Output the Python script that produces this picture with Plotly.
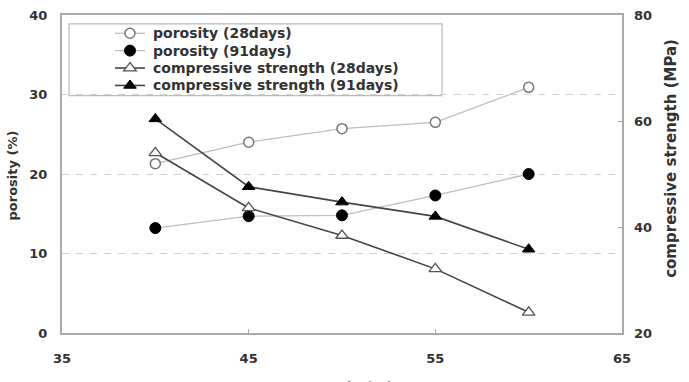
import plotly.graph_objects as go

wc = [40, 45, 50, 55, 60]
porosity_28 = [21.3, 24.0, 25.7, 26.5, 30.9]
porosity_91 = [13.2, 14.7, 14.8, 17.3, 20.0]
strength_28 = [54.0, 43.6, 38.4, 32.1, 23.9]
strength_91 = [60.4, 47.6, 44.7, 42.0, 35.8]

names = ["porosity (28days)", "porosity (91days)",
         "compressive strength (28days)", "compressive strength (91days)"]

x_ticks = [35, 45, 55, 65]
left_ticks = [0, 10, 20, 30, 40]
right_ticks = [20, 40, 60, 80]

W, H = 689, 382
L, R, T, B = 62, 622, 8, 333
pw, ph = R - L, B - T

def px(x):
    return (x - L) / pw

def py(y):
    return (B - y) / ph

FONT = "DejaVu Sans"
TXT = "#333333"

styles = [
    dict(line="#bdbdbd", lw=1.3, sym="circle", size=10, fill="white", edge="#777777", ew=1.5),
    dict(line="#bdbdbd", lw=1.3, sym="circle", size=11, fill="black", edge="black", ew=1),
    dict(line="#444444", lw=1.6, sym="triangle-up", size=11, fill="white", edge="#555555", ew=1.3),
    dict(line="#444444", lw=1.6, sym="triangle-up", size=11, fill="black", edge="black", ew=1),
]
series = [(porosity_28, "y"), (porosity_91, "y"), (strength_28, "y2"), (strength_91, "y2")]

fig = go.Figure()
for (vals, ax), st, nm in zip(series, styles, names):
    fig.add_trace(go.Scatter(
        x=wc, y=vals, name=nm, mode="lines+markers", yaxis=ax, showlegend=False,
        line=dict(color=st["line"], width=st["lw"]),
        marker=dict(symbol=st["sym"], size=st["size"], color=st["fill"],
                    line=dict(color=st["edge"], width=st["ew"]))))

axis_font = dict(family=FONT, size=13, color=TXT, weight="bold")

# legend (drawn manually to match the compact row spacing)
shapes = [dict(type="rect", xref="paper", yref="paper",
               x0=px(69), x1=px(442), y0=py(90.5), y1=py(17),
               line=dict(color="#bbbbbb", width=1.2),
               fillcolor="white", layer="below")]
annotations = []
row_y = [26.7, 44.4, 62.2, 80.0]
sym_x = 130
for ry, st, nm in zip(row_y, styles, names):
    shapes.append(dict(type="line", xref="paper", yref="paper",
                       xsizemode="pixel", ysizemode="pixel",
                       xanchor=px(sym_x), yanchor=py(ry),
                       x0=-15, x1=15, y0=0, y1=0,
                       line=dict(color=st["line"], width=st["lw"]), layer="above"))
    r = st["size"] / 2
    if st["sym"] == "circle":
        shapes.append(dict(type="circle", xref="paper", yref="paper",
                           xsizemode="pixel", ysizemode="pixel",
                           xanchor=px(sym_x), yanchor=py(ry),
                           x0=-r, x1=r, y0=-r, y1=r,
                           fillcolor=st["fill"],
                           line=dict(color=st["edge"], width=st["ew"]), layer="above"))
    else:
        rt = r * 2 / 3 ** 0.5
        rs = r / 2
        shapes.append(dict(type="path", xref="paper", yref="paper",
                           xsizemode="pixel", ysizemode="pixel",
                           xanchor=px(sym_x), yanchor=py(ry),
                           path=f"M {-rt:.2f},{-rs:.2f} L {rt:.2f},{-rs:.2f} L 0,{r:.2f} Z",
                           fillcolor=st["fill"],
                           line=dict(color=st["edge"], width=st["ew"]), layer="above"))
    annotations.append(dict(text=nm, xref="paper", yref="paper",
                            x=px(151), y=py(ry), xanchor="left", yanchor="middle",
                            showarrow=False,
                            font=dict(family=FONT, size=14, color=TXT, weight="bold")))

annotations += [
    dict(text="porosity (%)", xref="paper", yref="paper",
         x=px(12), y=py(172), textangle=-90, showarrow=False,
         xanchor="center", yanchor="middle",
         font=dict(family=FONT, size=13, color=TXT, weight="bold")),
    dict(text="compressive strength (MPa)", xref="paper", yref="paper",
         x=px(671), y=py(155), textangle=-90, showarrow=False,
         xanchor="center", yanchor="middle",
         font=dict(family=FONT, size=15, color=TXT, weight="bold")),
    dict(text="W/C ratio (%)", xref="paper", yref="paper",
         x=px(340), y=py(378), showarrow=False,
         xanchor="center", yanchor="top",
         font=dict(family=FONT, size=14, color="#888888", weight="bold")),
]

fig.update_layout(
    width=W, height=H,
    margin=dict(l=L, r=W - R, t=T, b=H - B),
    paper_bgcolor="white", plot_bgcolor="white",
    showlegend=False,
    xaxis=dict(range=[35, 65], tickvals=x_ticks, ticks="inside", ticklen=4,
               tickcolor="#aaaaaa", showgrid=False, zeroline=False,
               showline=True, mirror=True, linecolor="#aaaaaa", linewidth=2,
               tickfont=axis_font, ticklabelstandoff=12),
    yaxis=dict(range=[0, 40], tickvals=left_ticks, ticks="", showgrid=True,
               gridcolor="#d0d0d0", griddash="7px,7px", gridwidth=1,
               zeroline=False, showline=True, mirror=True,
               linecolor="#aaaaaa", linewidth=2,
               tickfont=axis_font, ticklabelstandoff=10),
    yaxis2=dict(range=[20, 80], tickvals=right_ticks, overlaying="y",
                side="right", ticks="inside", ticklen=4, tickcolor="#aaaaaa",
                showgrid=False, zeroline=False, showline=False,
                tickfont=axis_font, ticklabelstandoff=11),
    shapes=shapes,
    annotations=annotations,
)

fig.write_html("out.html")
